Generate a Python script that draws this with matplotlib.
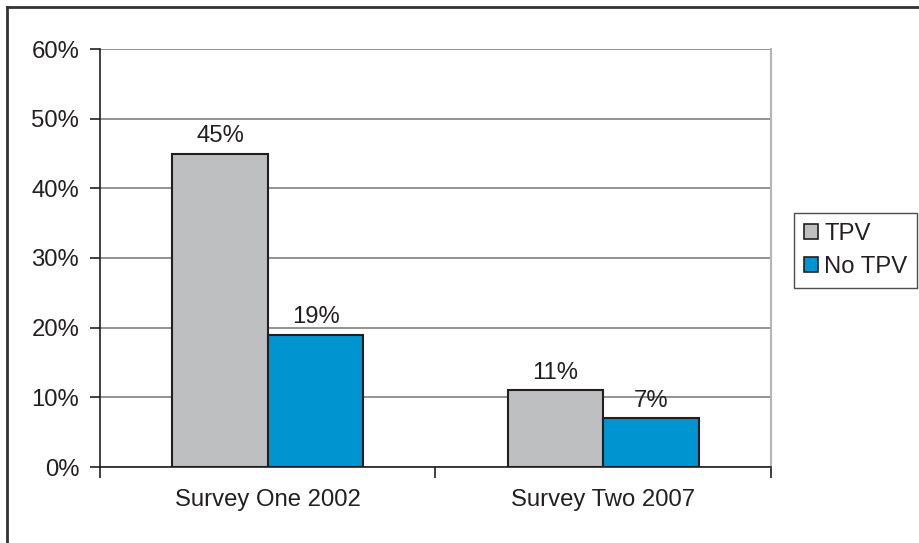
import numpy as np
import matplotlib.pyplot as plt
from matplotlib.patches import Patch
from matplotlib.lines import Line2D

plt.rcParams['font.family'] = ['Liberation Sans', 'DejaVu Sans']

surveys = ['Survey One 2002', 'Survey Two 2007']
series = ['TPV', 'No TPV']
tpv = [45, 11]
no_tpv = [19, 7]
colors = ['#BEBFC1', '#0094D0']
edge = '#231F20'
fs = 17.2

fig = plt.figure(figsize=(9.2, 5.43), dpi=100)
ax = fig.add_axes([100 / 920, 76 / 543, 671 / 920, 418 / 543])

x = np.arange(len(surveys))
w = 0.285
ax.bar(x - w / 2, tpv, w, color=colors[0], edgecolor=edge, linewidth=1.5, zorder=3)
ax.bar(x + w / 2, no_tpv, w, color=colors[1], edgecolor=edge, linewidth=1.5, zorder=3)

for xi, v in zip(x - w / 2, tpv):
    ax.text(xi, v + 0.9, f'{v}%', ha='center', va='bottom', fontsize=fs, color=edge)
for xi, v in zip(x + w / 2, no_tpv):
    ax.text(xi, v + 0.9, f'{v}%', ha='center', va='bottom', fontsize=fs, color=edge)

ax.set_xlim(-0.5, 1.5)
ax.set_ylim(0, 60)
ax.set_yticks(range(0, 61, 10))
ax.set_yticklabels([f'{t}%' for t in range(0, 61, 10)], fontsize=fs, color=edge)
ax.yaxis.grid(True, color='#808080', linewidth=1.2, zorder=0)

# category labels centred, ticks on the boundaries
ax.set_xticks(x)
ax.set_xticklabels(surveys, fontsize=fs, color=edge)
ax.tick_params(axis='x', length=0, pad=16)
ax.set_xticks([-0.5, 0.5, 1.5], minor=True)
ax.tick_params(axis='x', which='minor', length=8, width=1.2, color=edge, direction='out')
ax.tick_params(axis='y', length=7, width=1.2, color=edge, direction='out', pad=8)

ax.spines['top'].set_visible(False)
ax.spines['right'].set_color('#B5B5B5')
ax.spines['right'].set_linewidth(1.5)
ax.spines['left'].set_color(edge)
ax.spines['left'].set_linewidth(1.2)
ax.spines['bottom'].set_color(edge)
ax.spines['bottom'].set_linewidth(1.2)

handles = [Patch(facecolor=c, edgecolor=edge, linewidth=1.2) for c in colors]
leg = fig.legend(handles, series, loc='upper left', bbox_to_anchor=(794 / 920, 1 - 213 / 543),
                 fontsize=fs, frameon=True, fancybox=False, handlelength=0.6, handleheight=0.6,
                 handletextpad=0.25, borderpad=0.42, labelspacing=0.45, borderaxespad=0)
leg.get_frame().set_edgecolor(edge)
leg.get_frame().set_linewidth(1.0)
for t in leg.get_texts():
    t.set_color(edge)

# frame lines at top and left of the figure
fig.add_artist(Line2D([7 / 920, 1], [1 - 7 / 543] * 2, color='#333333', linewidth=2))
fig.add_artist(Line2D([7 / 920] * 2, [0, 1 - 7 / 543], color='#333333', linewidth=2))

fig.savefig('out.png', dpi=100)
